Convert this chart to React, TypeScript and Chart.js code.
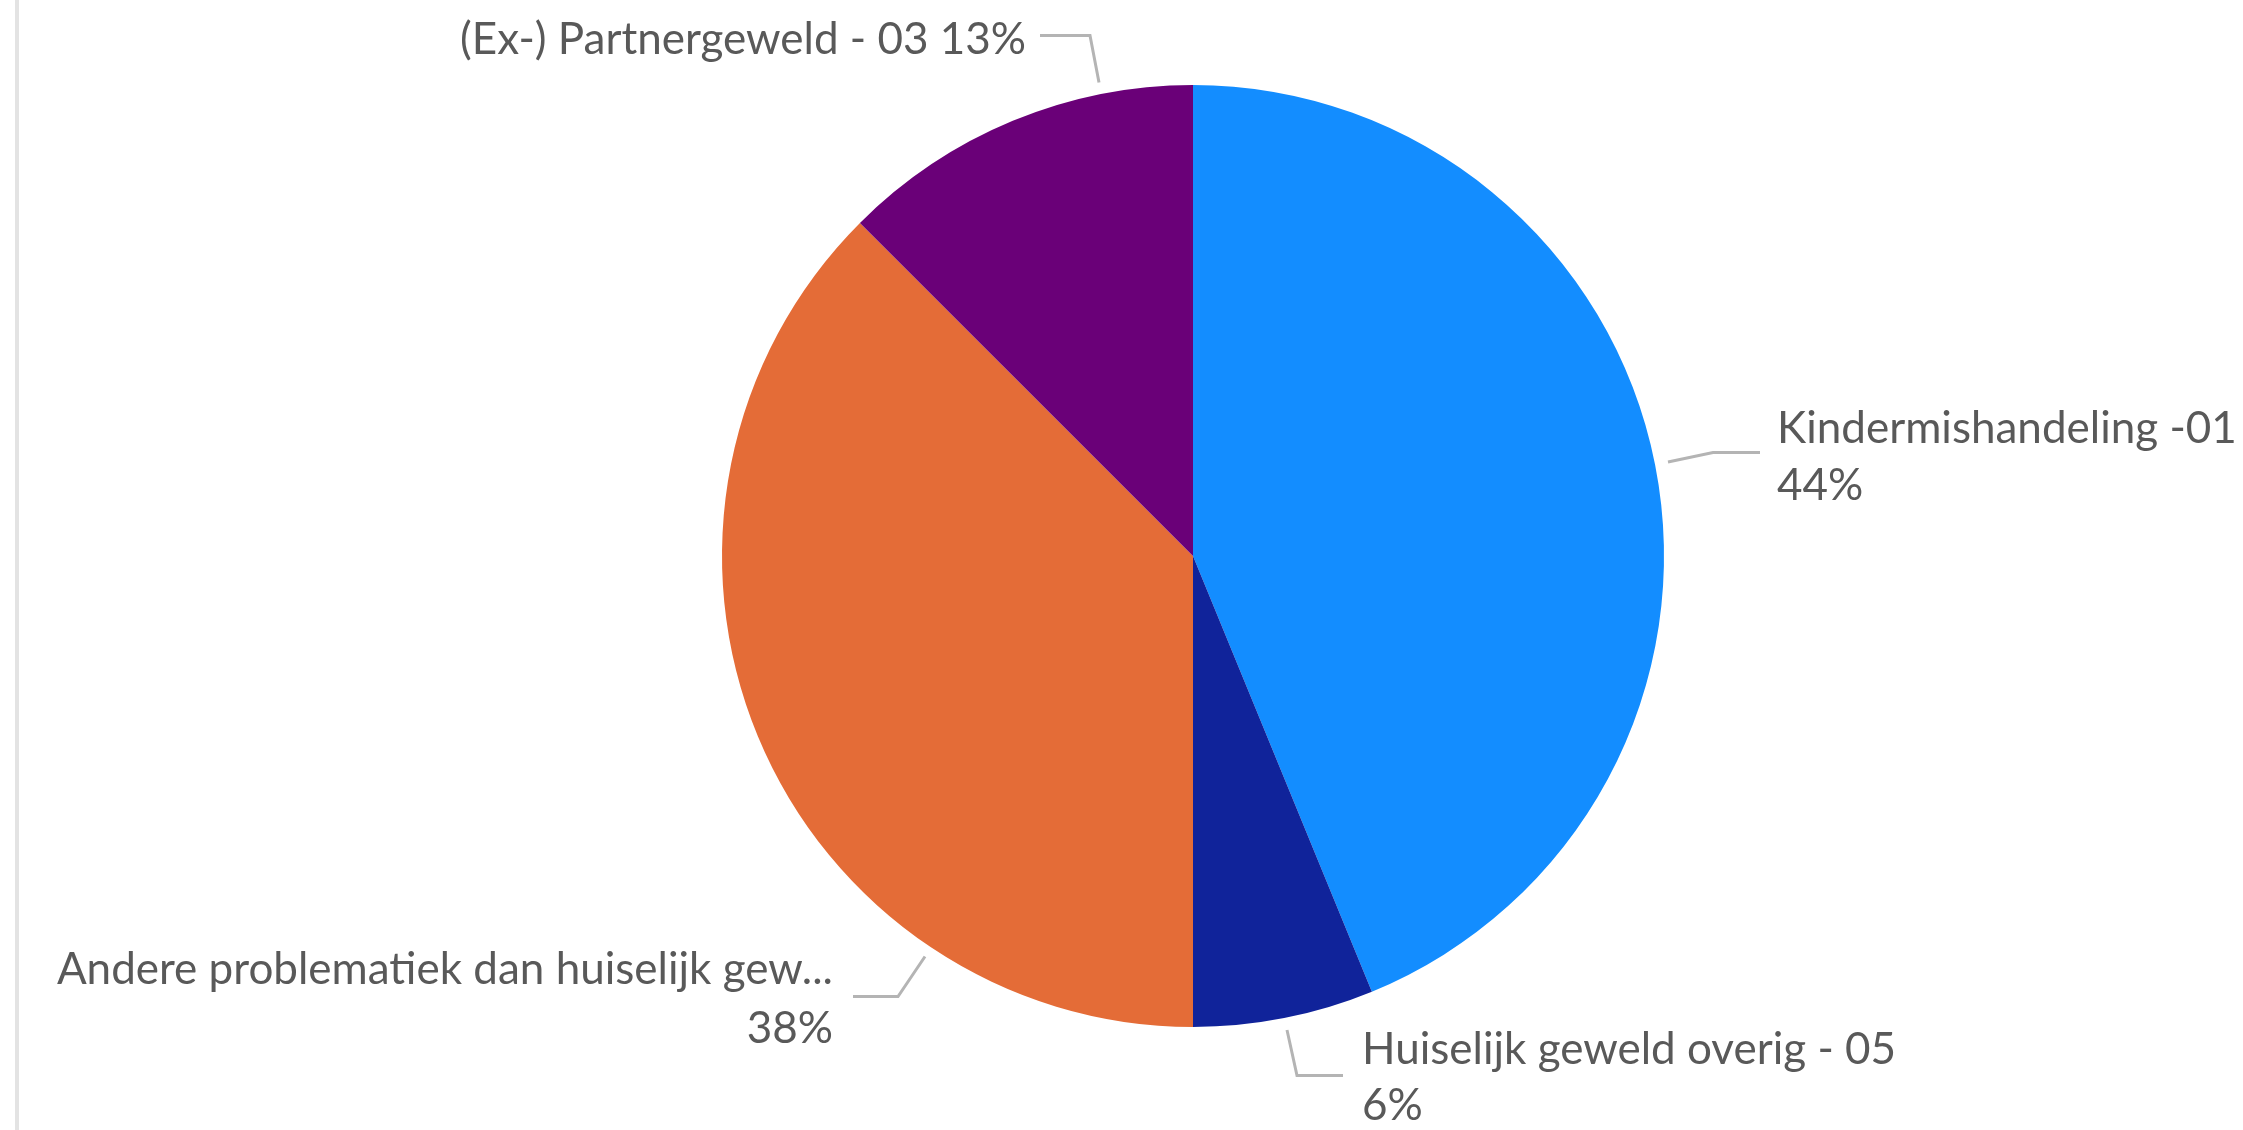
import React, { useEffect, useRef } from "react";
import { Chart, registerables } from "chart.js";

Chart.register(...registerables);

// ---- Data ----
const categories = [
  "Kindermishandeling -01",
  "Huiselijk geweld overig - 05",
  "Andere problematiek dan huiselijk gew...",
  "(Ex-) Partnergeweld - 03",
];
const values = [43.8, 6.2, 37.5, 12.5];
const percentLabels = ["44%", "6%", "38%", "13%"];

// ---- Styles ----
const sliceColors = ["#138DFF", "#10239A", "#E46C37", "#6A0078"];
const textColor = "#595959";
const leaderColor = "#B4B4B4";
const fontFamily = "Lato, 'Open Sans', sans-serif";
const fontSize = 44;

// ---- Label layout (offsets relative to pie centre, in pixels) ----
// leader: [start, elbow, end]; text: anchor x, align, line centre ys, two lines or one
type LabelLayout = {
  leader: [number, number][];
  textX: number;
  align: CanvasTextAlign;
  lineYs: number[];
  singleLine?: boolean;
};
const labelLayouts: LabelLayout[] = [
  {
    leader: [[475, -94], [520, -103.5], [567, -103.5]],
    textX: 584,
    align: "left",
    lineYs: [-127, -70],
  },
  {
    leader: [[94, 474], [104, 519.5], [150, 519.5]],
    textX: 169,
    align: "left",
    lineYs: [494, 550],
  },
  {
    leader: [[-268, 400.5], [-295, 440.5], [-340, 440.5]],
    textX: -360,
    align: "right",
    lineYs: [414, 473],
  },
  {
    leader: [[-94, -473.5], [-103, -520.5], [-153, -520.5]],
    textX: -167,
    align: "right",
    lineYs: [-516],
    singleLine: true,
  },
];

const labelPlugin = {
  id: "excelLabels",
  afterDatasetsDraw(chart: any) {
    const meta = chart.getDatasetMeta(0);
    const ctx: CanvasRenderingContext2D = chart.ctx;
    ctx.save();
    meta.data.forEach((arc: any, i: number) => {
      const cx = arc.x;
      const cy = arc.y;
      const lay = labelLayouts[i];
      ctx.strokeStyle = leaderColor;
      ctx.lineWidth = 3;
      ctx.lineJoin = "miter";
      ctx.beginPath();
      lay.leader.forEach((p, k) => {
        if (k === 0) ctx.moveTo(cx + p[0], cy + p[1]);
        else ctx.lineTo(cx + p[0], cy + p[1]);
      });
      ctx.stroke();

      ctx.fillStyle = textColor;
      ctx.font = `${fontSize}px ${fontFamily}`;
      ctx.textAlign = lay.align;
      ctx.textBaseline = "middle";
      const name = chart.data.labels[i];
      const pct = percentLabels[i];
      if (lay.singleLine) {
        ctx.fillText(`${name} ${pct}`, cx + lay.textX, cy + lay.lineYs[0]);
      } else {
        ctx.fillText(name, cx + lay.textX, cy + lay.lineYs[0]);
        ctx.fillText(pct, cx + lay.textX, cy + lay.lineYs[1]);
      }
    });
    ctx.restore();
  },
};

export default function App() {
  const canvasRef = useRef<HTMLCanvasElement | null>(null);

  useEffect(() => {
    if (!canvasRef.current) return;
    const chart = new Chart(canvasRef.current, {
      type: "pie",
      data: {
        labels: categories,
        datasets: [
          {
            data: values,
            backgroundColor: sliceColors,
            borderWidth: 0,
          },
        ],
      },
      options: {
        animation: false,
        responsive: false,
        maintainAspectRatio: false,
        layout: { padding: { left: 143, right: 0, top: 85, bottom: 103 } },
        plugins: {
          legend: { display: false },
          tooltip: { enabled: false },
          title: { display: false },
        },
      },
      plugins: [labelPlugin],
    });
    return () => chart.destroy();
  }, []);

  return (
    <div
      style={{
        position: "fixed",
        left: 0,
        top: 0,
        width: 2243,
        height: 1130,
        background: "#ffffff",
      }}
    >
      <div
        style={{
          position: "absolute",
          left: 15,
          top: 0,
          width: 4,
          height: 1130,
          background: "#E3E3E3",
        }}
      />
      <canvas
        ref={canvasRef}
        width={2243}
        height={1130}
        style={{ position: "absolute", left: 0, top: 0, width: 2243, height: 1130 }}
      />
    </div>
  );
}
